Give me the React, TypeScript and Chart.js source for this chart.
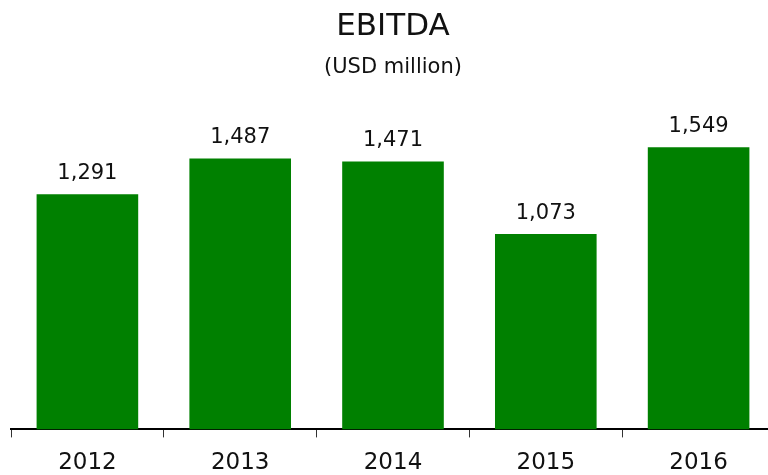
import React, { useEffect, useRef } from "react";
import { Chart, registerables } from "chart.js";

Chart.register(...registerables);

const categories: string[] = ["2012", "2013", "2014", "2015", "2016"];
const ebitdaValues: number[] = [1291, 1487, 1471, 1073, 1549];
const chartTitle = "EBITDA";
const chartSubtitle = "(USD million)";

const FONT = "'DejaVu Sans', Verdana, sans-serif";
const TEXT = "#111111";
const GREEN = "#008000";

const valueLabelPlugin = {
  id: "valueLabels",
  afterDatasetsDraw(chart: any) {
    const ctx = chart.ctx;
    const meta = chart.getDatasetMeta(0);
    ctx.save();
    ctx.font = `21px ${FONT}`;
    ctx.fillStyle = TEXT;
    ctx.textAlign = "center";
    ctx.textBaseline = "alphabetic";
    meta.data.forEach((bar: any, i: number) => {
      const v = chart.data.datasets[0].data[i] as number;
      ctx.fillText(v.toLocaleString("en-US"), bar.x, bar.y - 15.5);
    });
    ctx.restore();
  },
};

export default function App() {
  const ref = useRef<HTMLCanvasElement | null>(null);
  useEffect(() => {
    if (!ref.current) return;
    const chart = new Chart(ref.current, {
      type: "bar",
      data: {
        labels: categories,
        datasets: [
          {
            data: ebitdaValues,
            backgroundColor: GREEN,
            borderWidth: 0,
            categoryPercentage: 1,
            barPercentage: 0.665,
          },
        ],
      },
      options: {
        responsive: false,
        animation: false,
        devicePixelRatio: 1,
        layout: { padding: { left: 11, right: 1, top: 0, bottom: 0 } },
        plugins: {
          legend: { display: false },
          tooltip: { enabled: false },
          title: {
            display: true,
            text: chartTitle,
            fullSize: false,
            color: TEXT,
            font: { family: FONT, size: 31, weight: "normal" },
            padding: { top: 8, bottom: 0 },
          },
          subtitle: {
            display: true,
            text: chartSubtitle,
            fullSize: false,
            color: TEXT,
            font: { family: FONT, size: 21, weight: "normal" },
            padding: { top: 10.2, bottom: 2.8 },
          },
        },
        scales: {
          x: {
            grid: {
              display: true,
              drawOnChartArea: false,
              drawTicks: true,
              tickLength: 8,
              color: "#333333",
              lineWidth: 1,
              offset: true,
            },
            border: { display: true, color: "#000000", width: 2 },
            ticks: {
              color: TEXT,
              font: { family: FONT, size: 23 },
              padding: 12,
            },
          },
          y: {
            display: false,
            min: 0,
            max: 1900,
          },
        },
      },
      plugins: [valueLabelPlugin],
    });
    return () => chart.destroy();
  }, []);

  return (
    <div
      style={{
        position: "absolute",
        left: 0,
        top: 0,
        width: 768,
        height: 475,
        overflow: "hidden",
        background: "#ffffff",
      }}
    >
      <canvas ref={ref} width={776} height={489} style={{ display: "block" }} />
    </div>
  );
}
